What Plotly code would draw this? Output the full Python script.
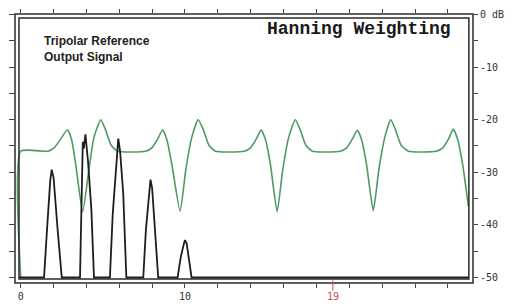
import plotly.graph_objects as go

# ---- data ----
green_x = [0, 0, 1.65, 2.05, 2.45, 2.84, 3.1, 3.35, 3.77, 4.15, 4.45, 4.87, 5.15, 5.5, 5.9,
           7.6, 8.0, 8.35, 8.64, 8.9, 9.2, 9.7, 10.05, 10.4, 10.8, 11.1, 11.45, 11.85,
           13.6, 14.0, 14.35, 14.63, 14.9, 15.2, 15.61, 15.95, 16.3, 16.71, 17.0, 17.35, 17.75,
           19.45, 19.85, 20.2, 20.49, 20.75, 21.05, 21.46, 21.8, 22.15, 22.52, 22.8, 23.15, 23.6,
           25.3, 25.7, 26.05, 26.33, 26.6, 26.9, 27.25]
green_y = [-50, -26, -26, -25.3, -23.6, -21.9, -23.8, -28.5, -37.5, -29.5, -23.5, -20.0, -21.8, -24.8, -26,
           -26, -25.3, -23.6, -21.9, -23.8, -28.5, -37.4, -29.5, -23.5, -20.0, -21.8, -24.8, -26,
           -26, -25.3, -23.6, -21.9, -23.8, -28.5, -37.5, -29.5, -23.5, -20.0, -21.8, -24.8, -26,
           -26, -25.3, -23.6, -22.0, -23.8, -28.5, -37.3, -29.5, -23.5, -20.0, -21.8, -24.8, -26,
           -26, -25.3, -23.6, -21.8, -23.8, -28.5, -36.5]

black_x = [-0.1, 1.42, 1.62, 1.8, 1.89, 2.0, 2.25, 2.5,
           3.61, 3.72, 3.78, 3.84, 3.94, 4.1, 4.3, 4.46,
           5.43, 5.6, 5.85, 5.94, 6.05, 6.24, 6.43,
           7.46, 7.62, 7.82, 7.9, 8.0, 8.18, 8.37,
           9.55, 9.75, 9.94, 10.0, 10.1, 10.25, 10.4, 27.25]
black_y = [-50, -50, -40, -31.5, -29.5, -31, -41, -50,
           -50, -33, -24.2, -25.5, -22.8, -28, -37, -50,
           -50, -38, -26, -23.6, -26, -34, -50,
           -50, -41, -33, -31.4, -33, -41, -50,
           -50, -46, -43.5, -42.9, -43.5, -47, -50, -50]

x_tick_vals = [0, 2, 4, 6, 8, 10, 12, 14, 16, 18, 20, 22, 24, 26]
x_tick_text = ["0", "", "", "", "", "10", "", "", "", "", "", "", "", ""]
y_tick_vals = [0, -5, -10, -15, -20, -25, -30, -35, -40, -45, -50]
y_tick_text = ["0 dB", "", "-10", "", "-20", "", "-30", "", "-40", "", "-50"]
marker_x = 19
marker_label = "19"

title_text = "Hanning Weighting"
legend_text = "Tripolar Reference<br>Output Signal"

XR = [-0.347, 27.53]
YR = [-51.05, 0.095]
FRAME = "#2a2a2a"
TICKFONT = dict(family="DejaVu Sans Mono", size=10, color="#333333")

fig = go.Figure()
fig.add_trace(go.Scatter(x=green_x, y=green_y, mode="lines",
                         line=dict(color="#4f9a62", width=1.6, shape="spline", smoothing=0.5),
                         hoverinfo="skip", showlegend=False))
fig.add_trace(go.Scatter(x=black_x, y=black_y, mode="lines",
                         line=dict(color="#1e1e1e", width=1.8),
                         hoverinfo="skip", showlegend=False))
# invisible trace to activate top/right axes
fig.add_trace(go.Scatter(x=[XR[0]], y=[YR[0]], xaxis="x2", yaxis="y2", mode="markers",
                         marker=dict(opacity=0), hoverinfo="skip", showlegend=False))

fig.update_layout(
    width=521, height=306,
    margin=dict(l=15, r=48, t=14, b=23, autoexpand=False),
    paper_bgcolor="white", plot_bgcolor="white",
    xaxis=dict(range=XR, tickvals=x_tick_vals, ticktext=x_tick_text, ticks="outside",
               ticklen=4, tickcolor="#444", tickwidth=1, showgrid=False, zeroline=False,
               showline=False, tickfont=TICKFONT, automargin=False),
    xaxis2=dict(range=XR, overlaying="x", side="top", tickvals=x_tick_vals,
                showticklabels=False, ticks="outside", ticklen=4, tickcolor="#444",
                showgrid=False, zeroline=False, showline=False, automargin=False),
    yaxis=dict(range=YR, tickvals=y_tick_vals, showticklabels=False, ticks="outside",
               ticklen=5, tickcolor="#444", showgrid=False, zeroline=False, showline=False,
               automargin=False),
    yaxis2=dict(range=YR, overlaying="y", side="right", tickvals=y_tick_vals,
                ticktext=y_tick_text, ticks="outside", ticklen=4, tickcolor="#444",
                showgrid=False, zeroline=False, showline=False, tickfont=TICKFONT,
                automargin=False),
    shapes=[
        dict(type="rect", xref="paper", yref="paper", x0=0, x1=1, y0=0, y1=1,
             line=dict(color=FRAME, width=1.5)),
        dict(type="rect", xref="paper", yref="paper", x0=0.0087, x1=0.991, y0=0.0149, y1=0.985,
             line=dict(color=FRAME, width=1.5)),
        dict(type="line", xref="x", yref="paper", x0=marker_x, x1=marker_x, y0=0.01, y1=-0.028,
             line=dict(color="#c0504d", width=1)),
    ],
    annotations=[
        dict(text="<b>" + title_text + "</b>", xref="paper", yref="paper", x=0.752, y=0.945,
             xanchor="center", yanchor="middle", showarrow=False,
             font=dict(family="Liberation Mono", size=18, color="#1a1a1a")),
        dict(text="<b>" + legend_text + "</b>", xref="paper", yref="paper", x=0.059, y=0.87,
             xanchor="left", yanchor="middle", align="left", showarrow=False,
             font=dict(family="Liberation Sans", size=12, color="#222222")),
        dict(text=marker_label, xref="x", yref="paper", x=marker_x, y=-0.05,
             xanchor="center", yanchor="middle", showarrow=False,
             font=dict(family="DejaVu Sans Mono", size=10, color="#c0504d")),
    ],
)

fig.write_html("out.html", config={"displayModeBar": False},
               post_script="document.body.style.margin='0';document.body.style.padding='0';")
